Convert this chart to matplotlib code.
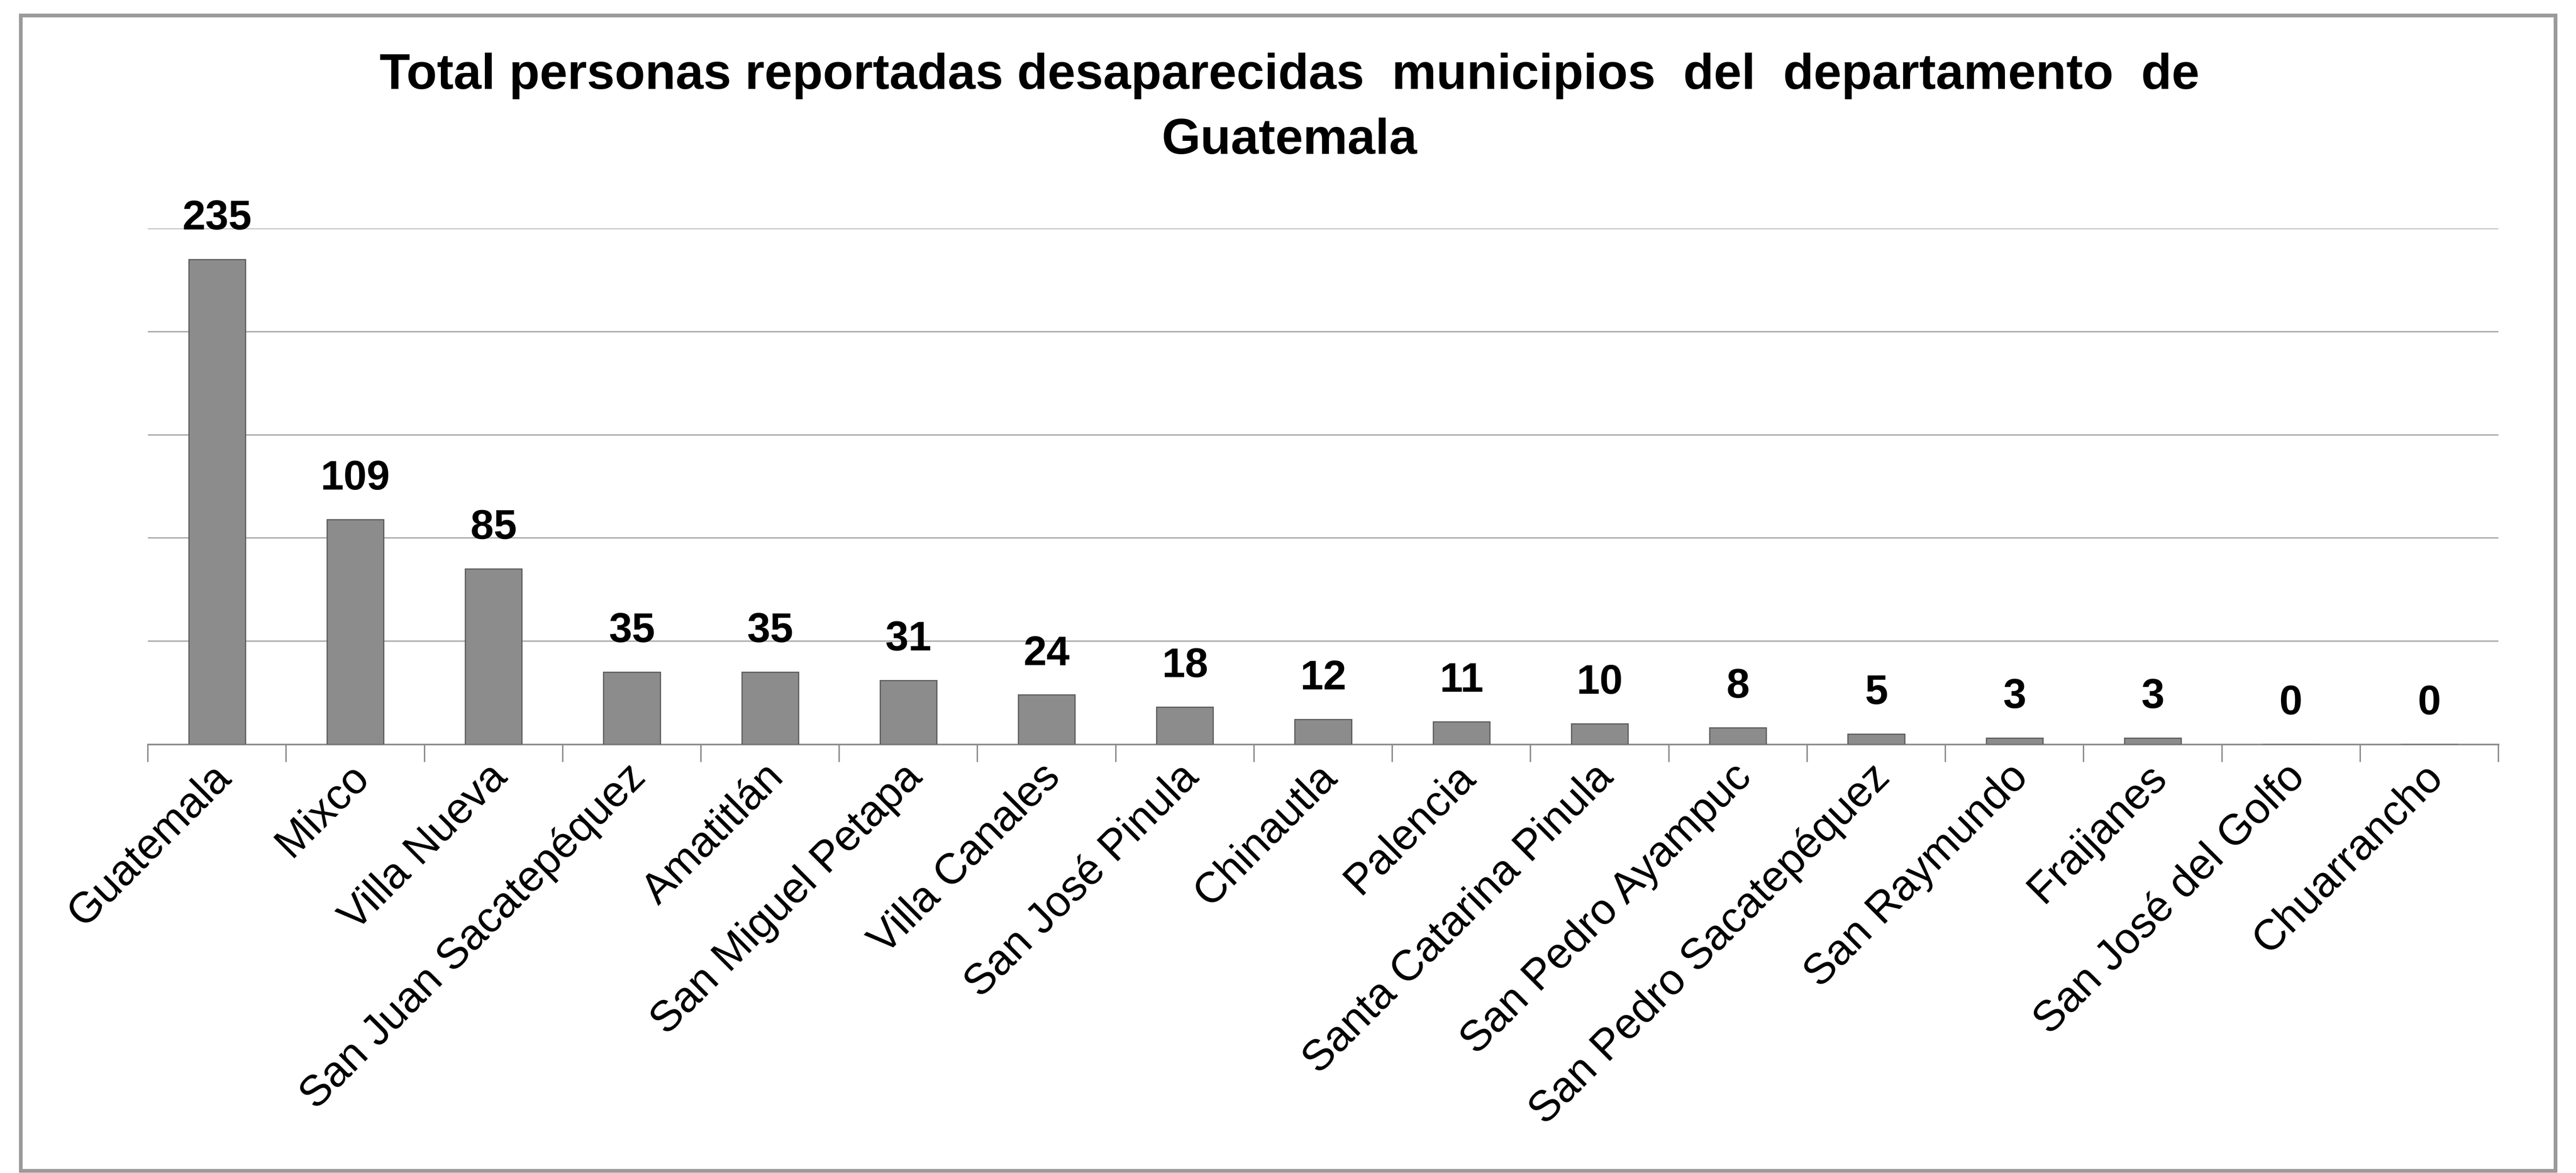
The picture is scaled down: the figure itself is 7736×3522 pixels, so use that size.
import numpy as np
import matplotlib
matplotlib.use("Agg")
import matplotlib.pyplot as plt
from matplotlib.transforms import ScaledTranslation

municipios = ["Guatemala", "Mixco", "Villa Nueva", "San Juan Sacatepéquez",
              "Amatitlán", "San Miguel Petapa", "Villa Canales", "San José Pinula",
              "Chinautla", "Palencia", "Santa Catarina Pinula", "San Pedro Ayampuc",
              "San Pedro Sacatepéquez", "San Raymundo", "Fraijanes",
              "San José del Golfo", "Chuarrancho"]
desaparecidos = [235, 109, 85, 35, 35, 31, 24, 18, 12, 11, 10, 8, 5, 3, 3, 0, 0]
titulo = "Total personas reportadas desaparecidas  municipios  del  departamento  de\nGuatemala"

plt.rcParams["font.family"] = ["Liberation Sans", "DejaVu Sans"]

fig = plt.figure(figsize=(77.36, 35.22), dpi=100, facecolor="white")
ax = fig.add_axes([0.0574, 0.3655, 0.9125, 0.4397])
ax.set_facecolor("white")

x = np.arange(len(municipios))
ax.bar(x, desaparecidos, width=0.41, color="#8c8c8c", edgecolor="#5a5a5a",
       linewidth=2.5, zorder=3)

ax.set_ylim(0, 250)
ax.set_xlim(-0.5, len(municipios) - 0.5)
ax.set_yticks(np.arange(50, 251, 50))
ax.yaxis.grid(True, color="#ababab", linewidth=3, zorder=0)
ax.tick_params(axis="y", length=0, labelleft=False)

# ticks on category boundaries, labels on category centres
ax.set_xticks(np.arange(-0.5, len(municipios), 1.0))
ax.tick_params(axis="x", which="major", length=38, width=3, color="#8a8a8a",
               labelbottom=False)
ax.set_xticks(x, minor=True)
ax.set_xticklabels(municipios, minor=True, rotation=45, ha="right", va="center",
                   rotation_mode="anchor", fontsize=93)
ax.tick_params(axis="x", which="minor", length=0, pad=58)
shift = ScaledTranslation(0.22, 0, fig.dpi_scale_trans)
for lab in ax.get_xticklabels(minor=True):
    lab.set_transform(lab.get_transform() + shift)

for side in ["left", "right", "top"]:
    ax.spines[side].set_visible(False)
ax.spines["bottom"].set_color("#8a8a8a")
ax.spines["bottom"].set_linewidth(3.5)

for xi, v in zip(x, desaparecidos):
    ax.annotate(str(v), (xi, v), xytext=(0, 46), textcoords="offset points",
                ha="center", va="bottom", fontsize=90, fontweight="bold",
                family=["Liberation Sans Narrow", "Liberation Sans"])

fig.text(0.5006, 0.955, titulo, ha="center", va="top", fontsize=108,
         fontweight="bold", linespacing=1.5)

# outer frame of the chart area
frame = plt.Rectangle((0.008, 0.002), 0.984, 0.985, transform=fig.transFigure,
                      fill=False, edgecolor="#9a9a9a", linewidth=8)
fig.patches.append(frame)

fig.savefig("out.png", dpi=100, facecolor="white")
